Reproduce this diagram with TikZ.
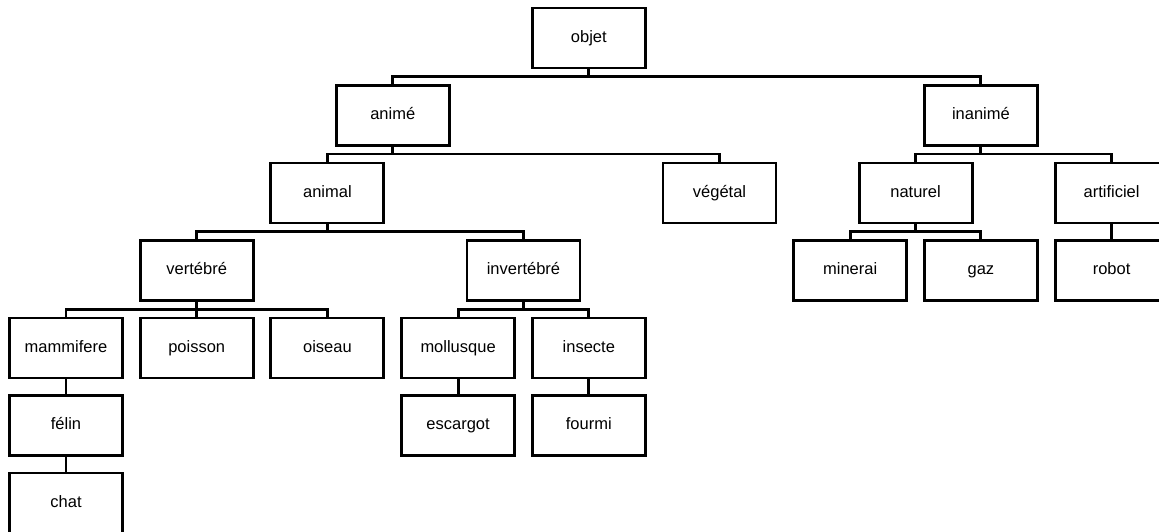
\documentclass[tikz,border=0pt]{standalone}
\usepackage{fontspec}
\setmainfont{Liberation Sans}
\begin{document}
\begin{tikzpicture}[x=1pt,y=1pt,
  box/.style={draw, line width=2.9pt, minimum width=113pt, minimum height=60pt, inner sep=0pt, text height=8.5pt, text depth=0pt, font=\fontsize{16.5}{18}\selectfont, fill=white},
  conn/.style={line width=2.9pt}]
\useasboundingbox (0,0) rectangle (1159,531);
\clip (0,0) rectangle (1159,531);
% columns: 66 + 130.7k ; rows (y up): 493, 415.5, 338, 260.5, 183, 105.5, 28
\node[box] (objet) at (588.8,493) {objet};
\node[box] (anime) at (392.75,415.5) {animé};
\node[box] (inanime) at (980.9,415.5) {inanimé};
\node[box] (animal) at (327.4,338) {animal};
\node[box] (vegetal) at (719.5,338) {végétal};
\node[box] (naturel) at (915.55,338) {naturel};
\node[box] (artificiel) at (1111.6,338) {artificiel};
\node[box] (vertebre) at (196.7,260.5) {vertébré};
\node[box] (invertebre) at (523.45,260.5) {invertébré};
\node[box] (minerai) at (850.2,260.5) {minerai};
\node[box] (gaz) at (980.9,260.5) {gaz};
\node[box] (robot) at (1111.6,260.5) {robot};
\node[box] (mammifere) at (66,183) {mammifere};
\node[box] (poisson) at (196.7,183) {poisson};
\node[box] (oiseau) at (327.4,183) {oiseau};
\node[box] (mollusque) at (458.1,183) {mollusque};
\node[box] (insecte) at (588.8,183) {insecte};
\node[box] (felin) at (66,105.5) {félin};
\node[box] (escargot) at (458.1,105.5) {escargot};
\node[box] (fourmi) at (588.8,105.5) {fourmi};
\node[box] (chat) at (66,28) {chat};
\foreach \p/\c in {objet/anime, objet/inanime, anime/animal, anime/vegetal,
  inanime/naturel, inanime/artificiel, animal/vertebre, animal/invertebre,
  naturel/minerai, naturel/gaz, artificiel/robot, vertebre/mammifere,
  vertebre/poisson, vertebre/oiseau, invertebre/mollusque, invertebre/insecte,
  mammifere/felin, mollusque/escargot, insecte/fourmi, felin/chat}
  \draw[conn] (\p.south) |- ([yshift=7.5pt]\c.north) -- (\c.north);
\end{tikzpicture}
\end{document}
